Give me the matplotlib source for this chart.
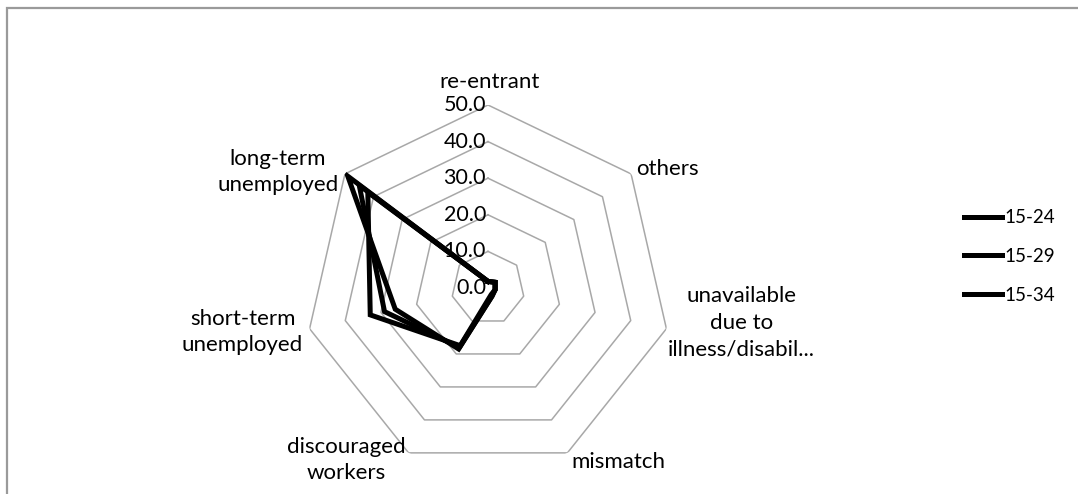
import numpy as np
import matplotlib
matplotlib.use("Agg")
import matplotlib.pyplot as plt
from matplotlib.patches import Rectangle

plt.rcParams['font.family'] = ['Lato', 'DejaVu Sans']

# категории по часовой стрелке, начиная сверху
categories = ['re-entrant', 'others', 'unavailable\ndue to\nillness/disabil...',
              'mismatch', 'discouraged\nworkers', 'short-term\nunemployed',
              'long-term\nunemployed']
series_names = ['15-24', '15-29', '15-34']
vals_15_24 = [1.8, 2.5, 2.0, 2.5, 18.5, 26.0, 49.0]
vals_15_29 = [1.8, 2.5, 2.0, 2.5, 18.0, 29.0, 45.0]
vals_15_34 = [1.8, 2.5, 2.0, 2.0, 17.5, 33.0, 42.0]
rings = [10, 20, 30, 40, 50]
ring_labels = ['0.0', '10.0', '20.0', '30.0', '40.0', '50.0']

W, H = 1078, 494
fig = plt.figure(figsize=(W / 100, H / 100), dpi=100)
fig.patches.append(Rectangle((7 / W, -0.1), 1.2, 1.1 - 8 / H, transform=fig.transFigure,
                             fill=False, edgecolor='#9a9a9a', linewidth=1.6))

cx, cy, R = 488, 288, 183
ax = fig.add_axes([(cx - R) / W, (H - cy - R) / H, 2 * R / W, 2 * R / H], projection='polar')
ax.set_theta_zero_location('N')
ax.set_theta_direction(-1)
ax.set_ylim(0, 50)
ax.grid(False)
ax.spines['polar'].set_visible(False)
ax.set_xticks([])
ax.set_yticks([])
ax.patch.set_alpha(0)

n = len(categories)
theta = np.linspace(0, 2 * np.pi, n, endpoint=False)
theta_c = np.append(theta, theta[0])

# сетка-семиугольники
for r in rings:
    ax.plot(theta_c, [r] * (n + 1), color='#a8a8a8', linewidth=1.1, zorder=1)

# подписи шкалы
for i, lab in enumerate(ring_labels):
    ax.annotate(lab, xy=(0, i * 10), xytext=(-2, 0), textcoords='offset pixels',
                ha='right', va='center', fontsize=15.5, color='black', zorder=2)

# подписи категорий (смещения в пикселях от вершины внешнего кольца)
offsets = [(2, 23, 'center'), (5, 5, 'left'), (75, 6, 'center'), (4, -9, 'left'),
           (-62, -7, 'center'), (-67, -3, 'center'), (-67, 2, 'center')]
for t, lab, (dx, dy, ha) in zip(theta, categories, offsets):
    ax.annotate(lab, xy=(t, 50), xytext=(dx, dy), textcoords='offset pixels',
                ha=ha, va='center', multialignment='center', fontsize=16,
                linespacing=1.4, annotation_clip=False)

for vals, name in zip([vals_15_24, vals_15_29, vals_15_34], series_names):
    ax.plot(theta_c, vals + vals[:1], color='black', linewidth=3.6,
            solid_joinstyle='miter', label=name, zorder=3)

fig.legend(loc='upper left', bbox_to_anchor=(955 / W, 1 - 200 / H), frameon=False,
           fontsize=13.5, handlelength=2.0, handletextpad=0.15, labelspacing=1.15,
           borderpad=0)

fig.savefig('out.png', dpi=100)
